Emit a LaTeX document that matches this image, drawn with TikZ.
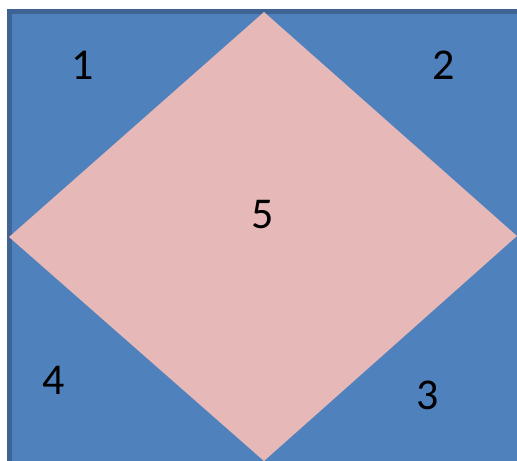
\documentclass[tikz,border=0pt]{standalone}
\usepackage{fontspec}
\setmainfont{Carlito}
\definecolor{bluefill}{HTML}{4F81BD}
\definecolor{blueline}{HTML}{3F6494}
\definecolor{pinkfill}{HTML}{E6B9B8}
\begin{document}
\begin{tikzpicture}[x=0.75pt,y=-0.75pt,
  num/.style={inner sep=0pt,font=\fontsize{33}{33}\selectfont,text=black}]
\useasboundingbox (0,0) rectangle (517,460);
\begin{scope}
\clip (0,0) rectangle (517,460);
\draw[fill=bluefill,draw=blueline,line width=3.6pt] (9.5,11.8) rectangle (521,464);
\coordinate (T) at (264,12);
\coordinate (L) at (9,237);
\coordinate (R) at (517,236);
\coordinate (B) at (264,461);
\fill[pinkfill] (T) -- (R) -- (B) -- (L) -- cycle;
\end{scope}
\node[num] (n1) at (83,65) {1};
\node[num] (n2) at (444,65) {2};
\node[num] (n5) at (263,215) {5};
\node[num] (n4) at (54,380) {4};
\node[num] (n3) at (428,395) {3};
\end{tikzpicture}
\end{document}
